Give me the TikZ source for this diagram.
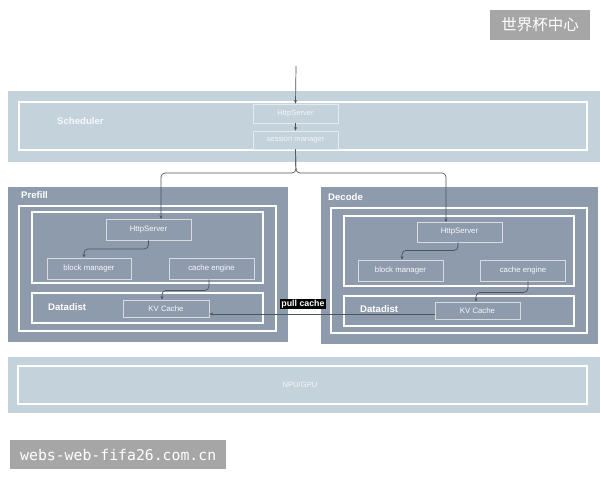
\documentclass[tikz,border=0pt]{standalone}
\usepackage{fontspec}
\setmainfont{Liberation Sans}
\newfontfamily\cjkfont{Noto Sans CJK SC}
\newfontfamily\wmfont{DejaVu Sans Mono}
\usetikzlibrary{arrows.meta}
\definecolor{lightband}{HTML}{C4D2DC}
\definecolor{darkpanel}{HTML}{8E9BAC}
\definecolor{connc}{HTML}{4E545C}
\definecolor{wmgray}{HTML}{A6A6A6}
\begin{document}
\begin{tikzpicture}[x=1pt,y=-1pt,
  band/.style={fill=lightband},
  panel/.style={fill=darkpanel},
  wframe/.style={draw=white, line width=2pt},
  lbox/.style={draw=white!55!lightband, line width=0.8pt, text=white!80!lightband,
    font=\fontsize{7.6}{9}\selectfont, inner sep=0pt, minimum width=85pt},
  dbox/.style={draw=white!65!darkpanel, line width=0.8pt, text=white!95!darkpanel,
    font=\fontsize{7.8}{9}\selectfont, inner sep=0pt, minimum width=85pt},
  ttl/.style={anchor=west, inner sep=0pt, text=white, font=\bfseries\fontsize{9.6}{11}\selectfont},
  conn/.style={draw=connc, line width=0.7pt, rounded corners=4pt,
    -{Stealth[length=3.5pt,width=3pt]}},
  wmark/.style={fill=wmgray, text=white, inner sep=0pt}
]
\useasboundingbox (0,0) rectangle (600,480);
\fill[white] (0,0) rectangle (600,480);

% Scheduler band
\fill[band] (8,91) rectangle (600,162);
\draw[wframe] (19,102) rectangle (587,150);
\node[ttl, text=white!85!lightband] (tsched) at (57,121) {Scheduler};
\node[lbox, minimum height=19pt] (sH) at (295.5,113.5) {HttpServer};
\node[lbox, minimum height=18pt] (sM) at (295.5,140) {session manager};

% Prefill panel
\fill[panel] (8,187) rectangle (288,342);
\draw[wframe, line width=2.4pt] (19,206) rectangle (276,331);
\draw[wframe] (32,212) rectangle (263,283);
\draw[wframe] (32,293) rectangle (263,323);
\node[ttl] (tpre) at (21,195) {Prefill};
\node[ttl] (tpdd) at (48,307) {Datadist};
\node[dbox, minimum height=21pt] (pH) at (148.5,229.5) {HttpServer};
\node[dbox, minimum height=21pt, minimum width=84pt] (pB) at (89,268.5) {block manager};
\node[dbox, minimum height=21pt] (pC) at (211.5,268.5) {cache engine};
\node[dbox, minimum height=17pt, minimum width=86pt] (pK) at (166,308.5) {KV Cache};

% Decode panel
\fill[panel] (321,187) rectangle (598,344);
\draw[wframe, line width=2.4pt] (331,208) rectangle (587,333);
\draw[wframe] (344,216) rectangle (574,286);
\draw[wframe] (344,296) rectangle (574,326);
\node[ttl] (tdec) at (328,197) {Decode};
\node[ttl] (tddd) at (360,309) {Datadist};
\node[dbox, minimum height=20pt] (dH) at (459.5,232) {HttpServer};
\node[dbox, minimum height=21pt] (dB) at (400.5,270.5) {block manager};
\node[dbox, minimum height=21pt] (dC) at (523,270.5) {cache engine};
\node[dbox, minimum height=17pt] (dK) at (477.5,310.5) {KV Cache};

% NPU/GPU band
\fill[band] (8,357) rectangle (600,413);
\draw[wframe] (18,366) rectangle (587,404);
\node[text=white!85!lightband, font=\fontsize{7.6}{9}\selectfont, inner sep=0pt] (npu) at (300,385) {NPU/GPU};

% connectors
\coordinate (top) at (296,66);
\coordinate (j) at (296,173);
\coordinate (pin) at (161,219);
\coordinate (din) at (446,222);
\draw[conn] (top) -- (sH.north);
\draw[conn] (sH.south) -- (sM.north);
\draw[conn] (sM.south) -- (j) -| (pin);
\draw[conn] (sM.south) -- (j) -| (din);

\draw[conn] (pH.south) -- ++(0,8.5) -| ([xshift=-5pt]pB.north);
\draw[conn] ([xshift=-2.5pt]pC.south) -- ++(0,11) -| ([xshift=-4pt]pK.north);
\draw[conn] ([xshift=-1.5pt]dH.south) -- ++(0,8) -| ([xshift=1.5pt]dB.north);
\draw[conn] ([xshift=5pt]dC.south) -- ++(0,11) -| ([xshift=-1.5pt]dK.north);

\coordinate (pcl) at (300,314);
\draw[conn] (dK.west |- pcl) -- (pK.east |- pcl);
\node[fill=black, text=white, font=\bfseries\fontsize{8.8}{10}\selectfont, inner xsep=1.5pt, inner ysep=1pt] (pclabel) at (303,304) {pull cache};

% watermarks
\node[wmark, minimum width=100pt, minimum height=30pt, font=\cjkfont\fontsize{15.5}{17}\selectfont] (wcn) at (540,25) {世界杯中心};
\node[wmark, anchor=north west, minimum width=216pt, minimum height=29pt, font=\wmfont\fontsize{14.8}{16}\selectfont] (wweb) at (10,440) {webs-web-fifa26.com.cn};
\end{tikzpicture}
\end{document}
